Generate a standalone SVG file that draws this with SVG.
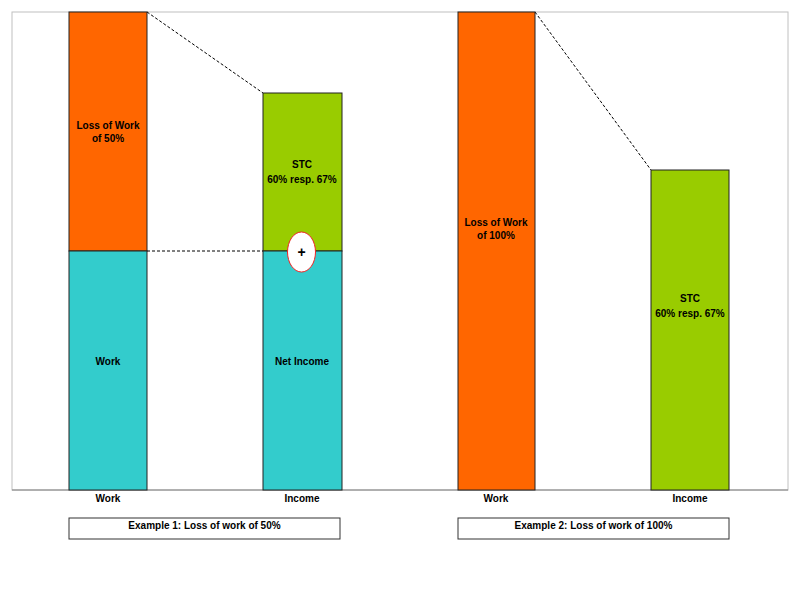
<svg xmlns="http://www.w3.org/2000/svg" width="800" height="590" viewBox="0 0 800 590">
<style>
.bar{stroke:#222;stroke-width:1}
.or{fill:#ff6600}.tl{fill:#33cccc}.gr{fill:#99cc00}
.t{font-family:"Liberation Sans",Arial,sans-serif;font-weight:bold;font-size:10px;fill:#000;text-anchor:middle}
.dash{stroke:#000;stroke-width:1;stroke-dasharray:3,2;fill:none}
.box{fill:#fff;stroke:#333;stroke-width:1}
</style>
<rect x="0" y="0" width="800" height="590" fill="#fff"/>
<g id="frame">
<rect x="12" y="12" width="776" height="478" fill="none" stroke="#c0c0c0" stroke-width="1"/>
<line x1="12" y1="490" x2="788" y2="490" stroke="#808080" stroke-width="1"/>
</g>
<g id="connectors">
<line class="dash" x1="147" y1="12" x2="263" y2="93"/>
<line class="dash" x1="147" y1="251" x2="263" y2="251"/>
<line class="dash" x1="535" y1="12" x2="651" y2="170"/>
</g>
<g id="ex1-work-loss"><rect class="bar or" x="69" y="12" width="78" height="239"/><text class="t" x="108" y="129">Loss of Work</text><text class="t" x="108" y="142">of 50%</text></g>
<g id="ex1-work"><rect class="bar tl" x="69" y="251" width="78" height="239"/><text class="t" x="108" y="365">Work</text></g>
<g id="ex1-stc"><rect class="bar gr" x="263" y="93" width="79" height="158"/><text class="t" x="302" y="168">STC</text><text class="t" x="302" y="183">60% resp. 67%</text></g>
<g id="ex1-net"><rect class="bar tl" x="263" y="251" width="79" height="239"/><text class="t" x="302" y="365">Net Income</text></g>
<g id="plus"><ellipse cx="301.5" cy="252" rx="14" ry="20" fill="#fff" stroke="#ee2222" stroke-width="1"/><text x="301.5" y="256.5" font-family="Liberation Sans,Arial,sans-serif" font-weight="bold" font-size="14px" text-anchor="middle">+</text></g>
<g id="ex2-work-loss"><rect class="bar or" x="458" y="12" width="77" height="478"/><text class="t" x="496" y="226">Loss of Work</text><text class="t" x="496" y="239">of 100%</text></g>
<g id="ex2-stc"><rect class="bar gr" x="651" y="170" width="78" height="320"/><text class="t" x="690" y="302">STC</text><text class="t" x="690" y="317">60% resp. 67%</text></g>
<g id="axis-labels">
<text class="t" x="108" y="502">Work</text>
<text class="t" x="302" y="502">Income</text>
<text class="t" x="496" y="502">Work</text>
<text class="t" x="690" y="502">Income</text>
</g>
<g id="ex1-caption"><rect class="box" x="69" y="518" width="271" height="21"/><text class="t" x="204.5" y="529">Example 1: Loss of work of 50%</text></g>
<g id="ex2-caption"><rect class="box" x="458" y="518" width="271" height="21"/><text class="t" x="593.5" y="529">Example 2: Loss of work of 100%</text></g>
</svg>
